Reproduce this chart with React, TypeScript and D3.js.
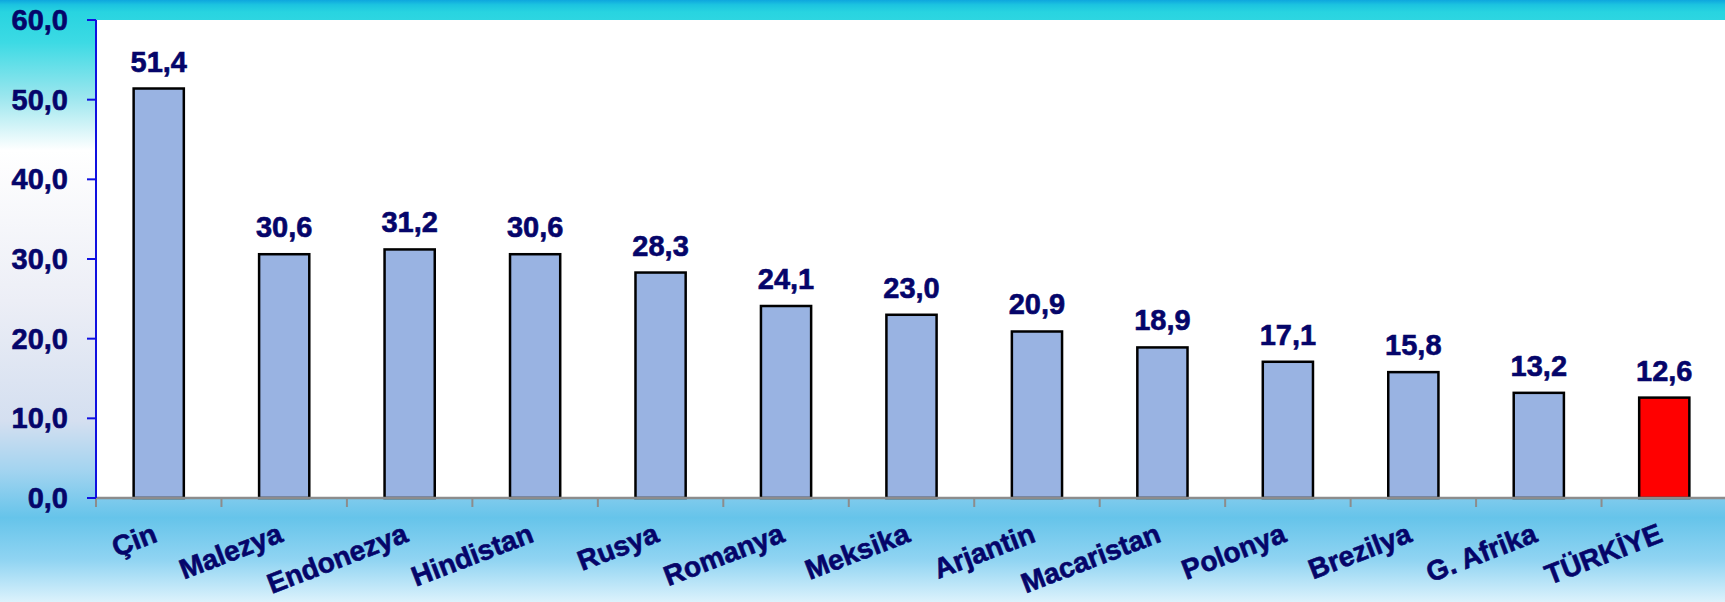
import React from 'react';
import * as d3 from 'd3';

const categories = ['Çin', 'Malezya', 'Endonezya', 'Hindistan', 'Rusya', 'Romanya', 'Meksika', 'Arjantin', 'Macaristan', 'Polonya', 'Brezilya', 'G. Afrika', 'TÜRKİYE'];
const values = [51.4, 30.6, 31.2, 30.6, 28.3, 24.1, 23.0, 20.9, 18.9, 17.1, 15.8, 13.2, 12.6];
const highlight = 'TÜRKİYE';
const yTicks = [0, 10, 20, 30, 40, 50, 60];

const width = 1725;
const height = 602;
const marginLeft = 96;
const marginTop = 20;
const plotBottom = 498;

const navy = '#05056a';
const font = '"Liberation Sans", Arial, sans-serif';

const fmt = (d: number) => d.toFixed(1).replace('.', ',');

export default function App() {
    const x = d3.scaleBand<string>()
        .domain(categories)
        .range([marginLeft, width + 2])
        .paddingInner(0.6)
        .paddingOuter(0.3);

    const y = d3.scaleLinear()
        .domain([0, 60])
        .range([plotBottom, marginTop]);

    const bw = x.bandwidth();
    const step = x.step();
    // category boundaries for the x ticks
    const boundaries = categories.map(c => (x(c) as number) + bw / 2 - step / 2);

    return (
        <div>
            <style>{'body{margin:0}'}</style>
            <svg width={width} height={height} style={{ display: 'block' }} fontFamily={font} fontWeight="bold">
                <defs>
                    <linearGradient id="bg" x1="0" y1="0" x2="0" y2="1">
                        <stop offset="0" stopColor="#0ea6de" />
                        <stop offset="0.008" stopColor="#1cc4e0" />
                        <stop offset="0.02" stopColor="#28d4e0" />
                        <stop offset="0.07" stopColor="#3cdae4" />
                        <stop offset="0.16" stopColor="#9ae6ee" />
                        <stop offset="0.25" stopColor="#ffffff" />
                        <stop offset="0.5" stopColor="#eceef6" />
                        <stop offset="0.7" stopColor="#d4dff0" />
                        <stop offset="0.78" stopColor="#a4d4f0" />
                        <stop offset="0.86" stopColor="#66c4ea" />
                        <stop offset="0.93" stopColor="#90d4f2" />
                        <stop offset="1" stopColor="#dcf2fc" />
                    </linearGradient>
                </defs>
                <rect x={0} y={0} width={width} height={height} fill="url(#bg)" />
                <rect x={marginLeft} y={marginTop} width={width - marginLeft} height={plotBottom - marginTop} fill="#ffffff" />

                {/* bars */}
                {categories.map((c, i) => (
                    <g key={c}>
                        <rect
                            x={x(c)}
                            y={y(values[i])}
                            width={bw}
                            height={plotBottom - y(values[i])}
                            fill={c === highlight ? '#ff0000' : '#99b3e2'}
                            stroke="#000"
                            strokeWidth={2.5}
                        />
                        <text
                            x={(x(c) as number) + bw / 2}
                            y={y(values[i]) - 17}
                            textAnchor="middle"
                            fontSize={29}
                            fill={navy}
                            stroke={navy}
                            strokeWidth={0.6}
                        >{fmt(values[i])}</text>
                    </g>
                ))}

                {/* x axis */}
                <line x1={marginLeft} x2={width} y1={plotBottom} y2={plotBottom} stroke="#8c8c8c" strokeWidth={2.5} />
                {boundaries.map((b, i) => (
                    <line key={i} x1={b} x2={b} y1={plotBottom} y2={plotBottom + 9} stroke="#8c8c8c" strokeWidth={2} />
                ))}
                {categories.map(c => {
                    const cx = (x(c) as number) + bw / 2;
                    return (
                        <text
                            key={c}
                            transform={`translate(${cx},541) rotate(-21)`}
                            textAnchor="end"
                            fontSize={28}
                            fill={navy}
                            stroke={navy}
                            strokeWidth={0.6}
                        >{c}</text>
                    );
                })}

                {/* y axis */}
                <line x1={marginLeft} x2={marginLeft} y1={marginTop} y2={plotBottom} stroke="#1010e0" strokeWidth={2} />
                {yTicks.map(t => (
                    <g key={t}>
                        <line x1={87} x2={marginLeft} y1={y(t)} y2={y(t)} stroke="#1010e0" strokeWidth={2} />
                        <text x={68} y={y(t) + 10} textAnchor="end" fontSize={29} fill={navy} stroke={navy} strokeWidth={0.6}>{fmt(t)}</text>
                    </g>
                ))}
            </svg>
        </div>
    );
}
